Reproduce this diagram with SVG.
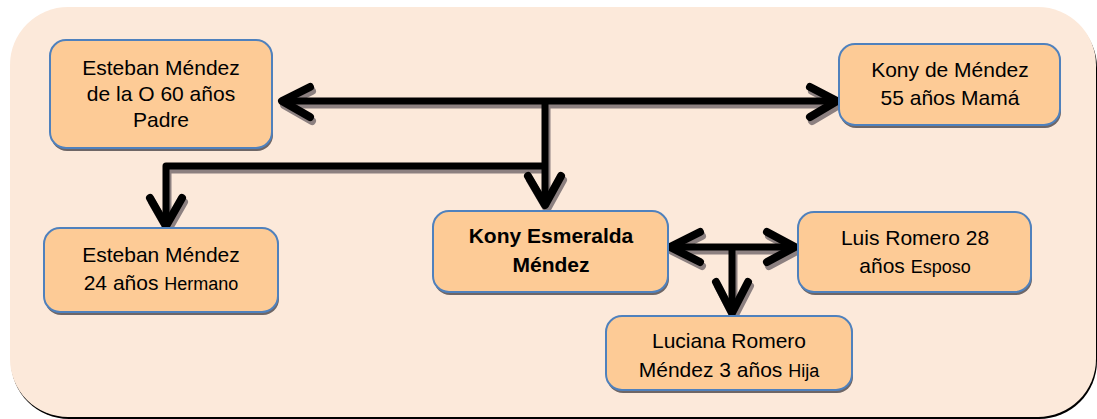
<svg xmlns="http://www.w3.org/2000/svg" width="1097" height="419" viewBox="0 0 1097 419">
<style>
.node rect.box{fill:#FDCB96;stroke:#4F81BD;stroke-width:2}
.node rect.sh{fill:#6e6666}
.t{font-family:"Liberation Sans",Arial,sans-serif;font-size:21px;fill:#000;text-anchor:middle}
.b{font-weight:bold}
.s{font-size:18px}
.ln{fill:none;stroke:#000;stroke-width:7;stroke-linejoin:round}
.ar{fill:none;stroke:#000;stroke-width:8;stroke-linecap:round;stroke-linejoin:round}
.shd .ln,.shd .ar{stroke:#8c8080}
</style>
<rect x="11" y="10" width="1086" height="409" rx="58" fill="#000"/>
<rect x="10" y="7" width="1086" height="410" rx="58" fill="#FCE9DA"/>

<g id="connectors">
  <g class="shd" transform="translate(2,4)">
    <path class="ln" d="M284 101 H835 M545 101 V204 M545 166 H166 V224"/>
    <path class="ar" d="M310 87 L282 101 L310 117 M810 87 L837 101 L810 117 M528 176 L545 205 L561 176 M150 198 L166 226 L182 198"/>
    <path class="ln" d="M672 247 H793 M732 247 V312"/>
    <path class="ar" d="M700 232 L670 247 L700 262 M767 232 L795 247 L767 262 M716 282 L732 313 L748 282"/>
  </g>
  <g>
    <path class="ln" d="M284 101 H835 M545 101 V204 M545 166 H166 V224"/>
    <path class="ar" d="M310 87 L282 101 L310 117 M810 87 L837 101 L810 117 M528 176 L545 205 L561 176 M150 198 L166 226 L182 198"/>
    <path class="ln" d="M672 247 H793 M732 247 V312"/>
    <path class="ar" d="M700 232 L670 247 L700 262 M767 232 L795 247 L767 262 M716 282 L732 313 L748 282"/>
  </g>
</g>

<g id="padre" class="node">
  <rect class="sh" x="51" y="43" width="222" height="108" rx="16"/>
  <rect class="box" x="50" y="40" width="222" height="108" rx="16"/>
  <text class="t" x="161" y="75">Esteban Méndez</text>
  <text class="t" x="161" y="101">de la O 60 años</text>
  <text class="t" x="161" y="127">Padre</text>
</g>

<g id="mama" class="node">
  <rect class="sh" x="840" y="47" width="221" height="81" rx="16"/>
  <rect class="box" x="839" y="44" width="221" height="81" rx="16"/>
  <text class="t" x="950" y="77">Kony de Méndez</text>
  <text class="t" x="950" y="105">55 años Mamá</text>
</g>

<g id="hermano" class="node">
  <rect class="sh" x="45" y="231" width="234" height="84" rx="16"/>
  <rect class="box" x="44" y="228" width="234" height="84" rx="16"/>
  <text class="t" x="161" y="262">Esteban Méndez</text>
  <text class="t" x="161" y="290">24 años <tspan class="s">Hermano</tspan></text>
</g>

<g id="kony" class="node">
  <rect class="sh" x="434" y="214" width="235" height="81" rx="16"/>
  <rect class="box" x="433" y="211" width="235" height="81" rx="16"/>
  <text class="t b" x="551" y="243">Kony Esmeralda</text>
  <text class="t b" x="551" y="272">Méndez</text>
</g>

<g id="luis" class="node">
  <rect class="sh" x="799" y="215" width="233" height="80" rx="16"/>
  <rect class="box" x="798" y="212" width="233" height="80" rx="16"/>
  <text class="t" x="915" y="245">Luis Romero 28</text>
  <text class="t" x="915" y="273">años <tspan class="s">Esposo</tspan></text>
</g>

<g id="luciana" class="node">
  <rect class="sh" x="607" y="319" width="246" height="74" rx="16"/>
  <rect class="box" x="606" y="316" width="246" height="74" rx="16"/>
  <text class="t" x="729" y="348">Luciana Romero</text>
  <text class="t" x="729" y="377">Méndez 3 años <tspan class="s">Hija</tspan></text>
</g>
</svg>
